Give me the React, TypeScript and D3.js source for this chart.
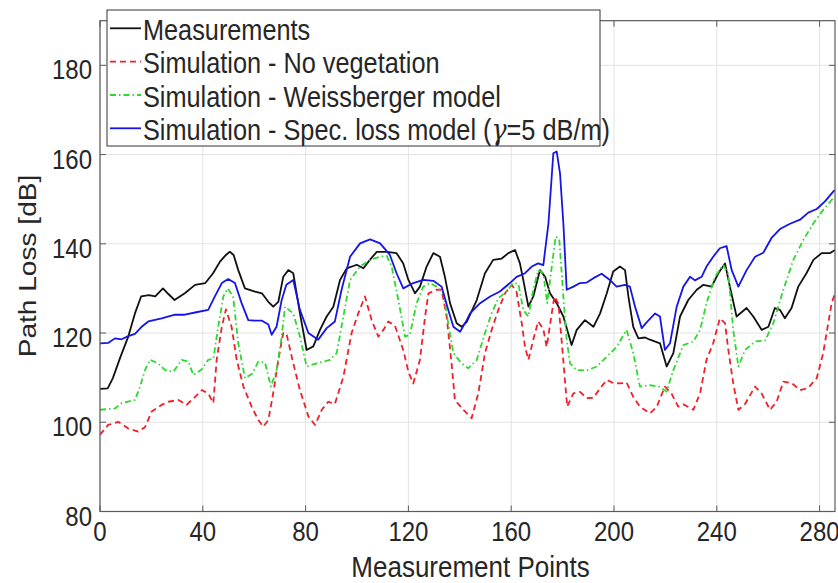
import React from "react";
import * as d3 from "d3";

// ---- Data ----
const xTicks = [0, 40, 80, 120, 160, 200, 240, 280];
const yTicks = [80, 100, 120, 140, 160, 180];

const seriesNames = [
  "Measurements",
  "Simulation - No vegetation",
  "Simulation - Weissberger model",
  "Simulation - Spec. loss model (",
];

const measurements: [number, number][] = [
  [0, 107.5], [3, 107.6], [5, 109.9], [8, 114.7], [11, 119.2], [13.6, 124.4], [16, 128.2], [19, 128.5],
  [21.5, 128.2], [24.5, 130], [26.5, 128.8], [29, 127.4], [33, 128.9], [37, 130.8], [41, 131.2], [44, 133.4],
  [46.7, 136], [49, 137.5], [50.5, 138.2], [52, 137.5], [53.8, 134.1], [56.4, 130], [60.3, 129.3], [63, 128.9],
  [65.5, 127], [67.4, 125.9], [69.4, 127], [71.3, 132.6], [73.3, 134.1], [75.2, 133.4], [77.8, 124.4],
  [80.4, 116.2], [83, 117], [85.6, 120.7], [88.2, 123.7], [90.8, 125.9], [93.4, 131.9], [96, 134.5],
  [99.9, 135.3], [102.5, 134.5], [105, 136.4], [107.7, 138.2], [111.6, 138.2], [115.4, 137.9], [118, 135.6],
  [120, 131.9], [122.6, 128.9], [124.5, 130.4], [127.1, 134.9], [129.7, 137.9], [132.3, 137.1], [134.2, 132.6],
  [136.2, 126.7], [138.8, 122.2], [140.7, 121.4], [142.7, 122.5], [146.6, 127.4], [149.8, 133.4], [153, 136.4],
  [156.3, 136.7], [158.9, 137.9], [161.5, 138.6], [163.4, 135.6], [164.7, 131.9], [166.7, 125.9], [168.6, 128.2],
  [171.2, 134.1], [173.2, 132.6], [175.1, 128.9], [177.7, 126.7], [180.3, 123.7], [183.5, 117.3], [185.5, 120.7],
  [188.7, 122.9], [192, 121.4], [194.6, 124.4], [197.2, 128.9], [199.7, 133.8], [202.3, 134.9], [204.3, 134.1],
  [205.6, 128.2], [207.5, 121.4], [209.5, 118.8], [212.1, 119], [214, 118.5], [217.9, 117.7], [220.5, 112.5],
  [223.1, 115.5], [225.7, 123.7], [228.9, 127.4], [232.2, 129.7], [234.8, 130.8], [238, 130.4], [240.6, 133.4],
  [243.2, 135.6], [245.1, 130.4], [247.7, 123.7], [251.6, 125.6], [254.2, 123.7], [257.5, 120.7], [260.1, 121.4],
  [262.6, 125.6], [264.6, 125.2], [266.5, 123.3], [269.1, 125.6], [271.7, 130.4], [274.9, 133.4], [277.6, 136.4],
  [280.8, 137.9], [284, 137.9], [286, 138.6],
];

const noVegetation: [number, number][] = [
  [0, 97.2], [3.2, 99.4], [7.1, 100.1], [11, 98.6], [14.9, 97.9], [17.5, 98.9], [20.1, 102.4], [24, 103.9],
  [26.6, 104.6], [30.5, 105], [33.7, 103.9], [37, 105.7], [39.6, 107.2], [42.1, 106.5], [44.1, 104.3], [45.4, 114],
  [47.4, 121.4], [49, 125.3], [51.2, 121.4], [53.2, 114], [55.8, 108], [59, 103.5], [61.6, 100.5], [63.5, 99],
  [65.5, 100.5], [67.4, 106.5], [69.4, 114], [71.3, 120], [72.5, 120], [75.2, 113.2], [77.8, 107.2], [81.1, 101.3],
  [83.7, 99.4], [86.3, 102.8], [88.8, 104.6], [91.4, 104.1], [94.7, 110.2], [97.9, 120], [100.5, 124.4],
  [103.1, 128.2], [105.7, 122.9], [108.3, 119.2], [110.3, 120.7], [112.2, 122.6], [114.8, 121.6], [118, 116.2],
  [120, 111.3], [121.9, 108.7], [124.5, 114], [126.5, 123.7], [127.8, 128.9], [131, 129.7], [132.9, 129.7],
  [134.9, 123.7], [136.8, 113.2], [138.1, 105], [141.4, 102.8], [144.6, 100.9], [147.2, 106.5], [149.8, 115.5],
  [152.4, 120.7], [155, 125.2], [157.6, 128.9], [160.2, 130.8], [162.1, 129.2], [164.1, 122.2], [165.4, 116.9],
  [166.7, 114], [168.6, 118.5], [170.5, 122.6], [172.5, 120.9], [173.8, 116.9], [175.4, 122.9], [176.8, 128.2],
  [178.4, 126.5], [179.6, 118.5], [180.9, 109.5], [181.8, 103.5], [184.2, 106.5], [186.8, 106.8], [189.4, 105.4],
  [192, 105.5], [194.6, 107.6], [197.2, 109.5], [199.7, 108.8], [202.3, 108.7], [204.9, 108.9], [207.5, 105.7],
  [210.1, 103.5], [214, 102], [216.6, 103.4], [219.8, 108], [222.4, 106.4], [225, 103.5], [227, 104],
  [230.9, 102.8], [233.5, 106.5], [236, 114], [238.6, 117.7], [241.2, 123.3], [243.2, 122.2], [244.5, 116.2],
  [246.4, 108.7], [248.4, 102.8], [251, 104.1], [254.9, 108], [257.5, 106.4], [260.7, 102.8], [263.3, 104.6],
  [265.9, 109.1], [269.1, 108.8], [272.4, 107.2], [275.6, 107.7], [278.9, 109.9], [281.4, 115.5], [284.7, 126.7],
  [286, 128.9],
];

const weissberger: [number, number][] = [
  [0, 102.8], [5.8, 103.1], [8.4, 104.3], [13.6, 105], [15.6, 108], [17.5, 111.7], [19.5, 114], [22.6, 113.2],
  [25.3, 111.7], [28.5, 111.3], [31.8, 114], [34.4, 113.6], [36.3, 110.6], [39.5, 111.8], [42.1, 114], [44.1, 114.2],
  [46, 121.4], [48, 128.2], [49.7, 130], [51.8, 128.2], [53.8, 117.7], [56.4, 109.9], [59.1, 110.8], [61.6, 113.6],
  [64.2, 113.4], [66.5, 108], [68.7, 111.7], [70.7, 119.2], [72, 125.9], [75.2, 124.4], [77.8, 119.2],
  [80.4, 112.5], [84.3, 113.2], [89.5, 114], [92.1, 115.5], [94.7, 123.7], [97.3, 131.9], [101.2, 134.9],
  [105.1, 136.4], [109, 137.1], [111.6, 137.3], [113.5, 134.9], [116.1, 127.4], [118.7, 119.2], [120.6, 119.6],
  [123.2, 126.7], [125.8, 130.4], [128.4, 131.2], [131, 130.4], [133.6, 128.9], [135.5, 122.2], [137.5, 115.5],
  [140.7, 113.2], [143.3, 112.1], [146.6, 114], [149.8, 120], [152.4, 124.4], [155, 127.8], [158.2, 129.3],
  [160.8, 131.2], [162.8, 131], [164.7, 125.2], [166.7, 123.7], [168.6, 129.7], [170.5, 134.1], [172.5, 133.4],
  [174, 126.7], [175.8, 134.9], [177.3, 141.6], [178.7, 141.1], [180.3, 128.2], [181.6, 118.5], [182.9, 113.2],
  [185.5, 111.7], [189.4, 111.6], [193.3, 112.5], [197.2, 114.7], [201, 116.9], [204.9, 120.7], [207.5, 115.5],
  [210.1, 108], [214, 108.3], [217.5, 108], [220.5, 106.9], [223.1, 111.7], [227, 117.3], [230.9, 118.1],
  [233.5, 120.7], [236, 126.7], [239.3, 132.6], [242.5, 135.3], [244.5, 133.2], [246.4, 120.7], [248.4, 112.5],
  [251, 116.2], [254.9, 118.1], [258.8, 118.3], [262, 122.2], [265.9, 129.7], [269.8, 136.4], [273.7, 140.9],
  [277.6, 144.6], [281.4, 147.6], [285.3, 150.2], [286, 150.5],
];

const specLoss: [number, number][] = [
  [0, 117.7], [3.3, 117.8], [5.8, 118.8], [8.4, 118.6], [11, 119.3], [13.6, 119.8], [16.2, 121.4], [18.8, 122.6],
  [24, 123.3], [29.2, 124.1], [33, 124.1], [37, 124.6], [42.1, 125.2], [44.7, 128.2], [47.4, 131.2], [49.9, 132.1],
  [52.5, 131.2], [55.1, 126.7], [57.7, 122.9], [60.3, 122.8], [62.9, 122.8], [65.5, 121.9], [66.8, 119.6],
  [68.7, 121.4], [70.7, 127.4], [72.5, 130.8], [75.2, 131.9], [77.8, 125.2], [81.1, 120], [84.9, 118.5],
  [88.2, 121.1], [91.4, 122.6], [94, 129.7], [97.3, 137.1], [101.2, 140.1], [105.1, 141], [109, 140.1],
  [112.8, 137.5], [115.4, 133.4], [118, 130], [121.9, 131.2], [125.8, 131.9], [129.7, 131.7], [132.9, 130.4],
  [135.5, 125.2], [137.5, 121.4], [140.1, 120.3], [142.7, 122.9], [144, 124.4], [147.9, 126.7], [151.8, 128.2],
  [155.6, 129.3], [159.5, 131.2], [162.1, 132.6], [165.4, 133.4], [168, 134.9], [170.5, 135.6], [172.5, 135.2],
  [174.5, 144.6], [176.4, 160.3], [177.7, 160.7], [179, 155.8], [180.3, 144.6], [181.6, 129.7], [184.2, 130.4],
  [186.8, 131.2], [189.4, 131.3], [192, 132.3], [195.2, 133.3], [198.4, 131.9], [201, 130.4], [204.3, 130.8],
  [206.2, 130.4], [208.2, 125.9], [210.8, 121.1], [212.7, 122.4], [216, 124.4], [217.9, 123.7], [219.8, 116.2],
  [221.8, 117.7], [224.4, 125.9], [227, 130.4], [229.6, 132.6], [231.5, 131.8], [234.1, 132.6], [236, 134.9],
  [238.6, 137.1], [241.2, 139], [243.8, 139.5], [245.8, 134.1], [248.4, 130.4], [251.6, 134.1], [254.9, 137.1],
  [258.1, 138], [261.3, 141.3], [264.6, 143.3], [268.5, 144.5], [272.4, 145.4], [275.6, 147], [278.9, 147.8],
  [282.1, 149.5], [285.3, 151.7], [286, 152],
];

// ---- Layout ----
const W = 838;
const H = 583;
const plot = { left: 100, right: 835, top: 20.7, bottom: 511.5 };
const SY = 1.17; // vertical stretch of the reference image
const FONT = "'Liberation Sans', Arial, Helvetica, sans-serif";
const TXT = "#262626";

const xScale = d3.scaleLinear().domain([0, 286]).range([plot.left, plot.right]);
const yScale = d3.scaleLinear().domain([80, 190]).range([plot.bottom, plot.top]);

const lineGen = d3
  .line<[number, number]>()
  .x((d) => xScale(d[0]))
  .y((d) => yScale(d[1]));

const seriesStyles = [
  { data: measurements, color: "#111111", dash: "none", width: 1.8 },
  { data: noVegetation, color: "#f0202a", dash: "6,4", width: 1.8 },
  { data: weissberger, color: "#2ed82e", dash: "6,3,1.5,3", width: 1.8 },
  { data: specLoss, color: "#1515e8", dash: "none", width: 1.8 },
];

function SText(props: { x: number; y: number; size: number; anchor?: string; rotate?: number; children: React.ReactNode }) {
  const { x, y, size, anchor = "start", rotate = 0, children } = props;
  return (
    <text
      transform={`translate(${x},${y}) scale(1,${SY}) rotate(${rotate})`}
      fontFamily={FONT}
      fontSize={size}
      fill={TXT}
      textAnchor={anchor as any}
    >
      {children}
    </text>
  );
}

export default function App() {
  const tickLen = 6;
  const legend = { x: 107, y: 10, w: 493, h: 136 };
  const legendBaselines = [40, 73.3, 106.7, 140];
  const axisColor = "#5a5a5a";

  return (
    <svg width={W} height={H} style={{ position: "absolute", left: 0, top: 0, background: "#fff" }}>
      <defs>
        <clipPath id="plotclip">
          <rect x={plot.left} y={plot.top} width={plot.right - plot.left} height={plot.bottom - plot.top} />
        </clipPath>
      </defs>
      <rect x={0} y={0} width={W} height={H} fill="#fff" />

      {/* grid */}
      <g stroke="#e3e3e3" strokeWidth={1}>
        {xTicks.map((t) => (
          <line key={"gx" + t} x1={xScale(t)} x2={xScale(t)} y1={plot.top} y2={plot.bottom} />
        ))}
        {yTicks.map((t) => (
          <line key={"gy" + t} x1={plot.left} x2={plot.right} y1={yScale(t)} y2={yScale(t)} />
        ))}
      </g>

      {/* series */}
      <g clipPath="url(#plotclip)" fill="none">
        {seriesStyles.map((s, i) => (
          <path
            key={i}
            d={lineGen(s.data) || ""}
            stroke={s.color}
            strokeWidth={s.width}
            strokeDasharray={s.dash}
            strokeLinejoin="round"
          />
        ))}
      </g>

      {/* axes box */}
      <rect
        x={plot.left}
        y={plot.top}
        width={plot.right - plot.left}
        height={plot.bottom - plot.top}
        fill="none"
        stroke={axisColor}
        strokeWidth={1.2}
      />
      <g stroke={axisColor} strokeWidth={1}>
        {xTicks.map((t) => (
          <g key={"tx" + t}>
            <line x1={xScale(t)} x2={xScale(t)} y1={plot.bottom} y2={plot.bottom - tickLen} />
            <line x1={xScale(t)} x2={xScale(t)} y1={plot.top} y2={plot.top + tickLen} />
          </g>
        ))}
        {yTicks.map((t) => (
          <g key={"ty" + t}>
            <line x1={plot.left} x2={plot.left + tickLen} y1={yScale(t)} y2={yScale(t)} />
            <line x1={plot.right} x2={plot.right - tickLen} y1={yScale(t)} y2={yScale(t)} />
          </g>
        ))}
      </g>

      {/* tick labels */}
      {xTicks.map((t) => (
        <SText key={"lx" + t} x={xScale(t)} y={541} size={24} anchor="middle">
          {t}
        </SText>
      ))}
      {yTicks.map((t) => (
        <SText key={"ly" + t} x={plot.left - 8} y={yScale(t) + 14} size={24} anchor="end">
          {t}
        </SText>
      ))}

      {/* axis labels */}
      <SText x={(plot.left + plot.right) / 2 + 3} y={576.7} size={26} anchor="middle">
        Measurement Points
      </SText>
      <SText x={36} y={266} size={24} anchor="middle" rotate={-90}>
        Path Loss [dB]
      </SText>

      {/* legend */}
      <rect x={legend.x} y={legend.y} width={legend.w} height={legend.h} fill="#fff" stroke="#333" strokeWidth={1} />
      {seriesStyles.map((s, i) => (
        <g key={"lg" + i}>
          <line
            x1={110}
            x2={141}
            y1={legendBaselines[i] - 11.7}
            y2={legendBaselines[i] - 11.7}
            stroke={s.color}
            strokeWidth={s.width}
            strokeDasharray={s.dash}
          />
          <SText x={143} y={legendBaselines[i]} size={25.3}>
            {seriesNames[i]}
            {i === 3 ? (
              <>
                <tspan fontStyle="italic" fontFamily="'DejaVu Serif', 'Liberation Serif', serif">γ</tspan>
                {"=5 dB/m)"}
              </>
            ) : null}
          </SText>
        </g>
      ))}
    </svg>
  );
}
